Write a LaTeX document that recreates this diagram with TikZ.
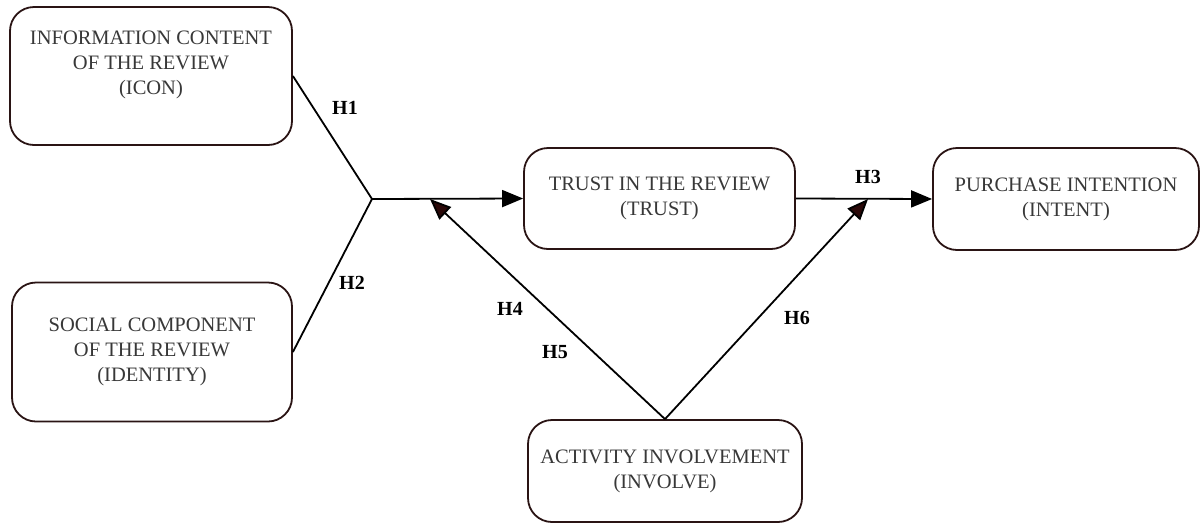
\documentclass[tikz,border=0pt]{standalone}
\usepackage{fontspec}
\setmainfont{Liberation Serif}
\usetikzlibrary{arrows.meta}
\definecolor{boxline}{HTML}{2A1414}
\definecolor{boxtext}{HTML}{383838}
\definecolor{tipcol}{HTML}{2A0808}
\tikzset{
  x=1pt,y=-1pt,
  box/.style={draw=boxline,line width=1.8pt,rounded corners=24pt,fill=white},
  boxlabel/.style={text=boxtext,font=\fontsize{20.5}{25}\selectfont,align=center,inner sep=0pt},
  hyp/.style={font=\bfseries\fontsize{20}{22}\selectfont,inner sep=0pt},
  conn/.style={line width=1.8pt,black},
  arr/.style={conn,-{Triangle[length=21pt,width=17pt]}},
  arrd/.style={conn,-{Triangle[length=21pt,width=17pt,fill=tipcol]}},
}
\begin{document}
\begin{tikzpicture}
\useasboundingbox (0,0) rectangle (1202,523);
\node[box,minimum width=282pt,minimum height=138pt] (icon) at (151,76) {};
\node[boxlabel] (icontxt) at (151,65) {INFORMATION CONTENT\\OF THE REVIEW\\(ICON)};
\node[box,minimum width=280pt,minimum height=139pt,boxlabel,draw=boxline,line width=1.8pt] (ident) at (152,352) {SOCIAL COMPONENT\\OF THE REVIEW\\(IDENTITY)};
\node[box,minimum width=271pt,minimum height=101pt,boxlabel,draw=boxline,line width=1.8pt] (trust) at (659.5,198.5) {TRUST IN THE REVIEW\\(TRUST)};
\node[box,minimum width=266pt,minimum height=102pt,boxlabel,draw=boxline,line width=1.8pt] (intent) at (1066,199) {PURCHASE INTENTION\\(INTENT)};
\node[box,minimum width=274pt,minimum height=102pt,boxlabel,draw=boxline,line width=1.8pt] (involve) at (665,471) {ACTIVITY INVOLVEMENT\\(INVOLVE)};
\coordinate (j) at (372,199);
\coordinate (t4) at (430,199);
\coordinate (t6) at (868,199);
\draw[conn] (icon.east) -- (j);
\draw[conn] (ident.east) -- (j);
\draw[arr] (j) -- (trust.west);
\draw[arr] (trust.east) -- (intent.west);
\draw[arrd] (involve.north) -- (t4);
\draw[arrd] (involve.north) -- (t6);
\node[hyp] (h1) at (345,108) {H1};
\node[hyp] (h2) at (352,283) {H2};
\node[hyp] (h3) at (868,177) {H3};
\node[hyp] (h4) at (510,309) {H4};
\node[hyp] (h5) at (555,352) {H5};
\node[hyp] (h6) at (797,318) {H6};
\end{tikzpicture}
\end{document}
